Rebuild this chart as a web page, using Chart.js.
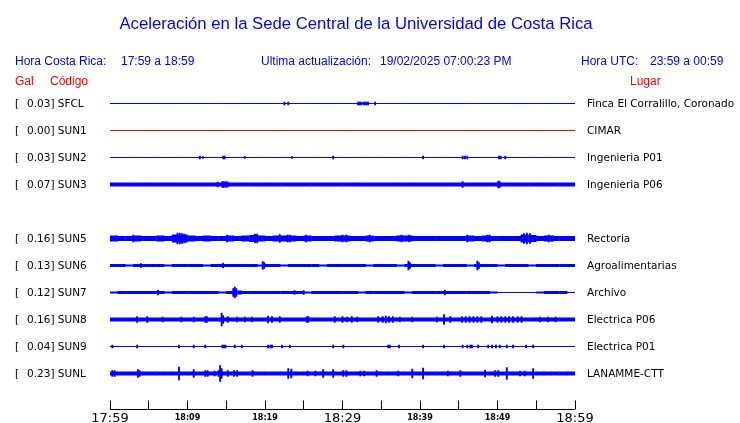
<!DOCTYPE html>
<html>
<head>
<meta charset="utf-8">
<script src="https://cdn.jsdelivr.net/npm/chart.js@4.4.1/dist/chart.umd.min.js"></script>
<style>
body { margin: 0; background: #fff; }
#wrap { position: relative; width: 740px; height: 423px; overflow: hidden; }
canvas { position: absolute; left: 0; top: 0; }
.t { position: absolute; white-space: pre; font-family: "Liberation Sans", Arial, sans-serif; font-size: 12px; line-height: 14px; color: #0000ff; }
.red { color: #ff0000; }
.lbl { position: absolute; white-space: pre; font-family: "DejaVu Sans", sans-serif; font-size: 10.5px; line-height: 13px; color: #000; }
</style>
</head>
<body>
<div id="wrap">
  <canvas id="c" width="740" height="423"></canvas>
  <div class="t" style="left:0;width:712px;text-align:center;top:14px;font-size:16.7px;line-height:20px;">Aceleración en la Sede Central de la Universidad de Costa Rica</div>
  <div class="t" style="left:15px;top:54px;">Hora Costa Rica:</div>
  <div class="t" style="left:121px;top:54px;">17:59 a 18:59</div>
  <div class="t" style="left:261px;top:54px;">Ultima actualización:</div>
  <div class="t" style="left:380px;top:54px;">19/02/2025 07:00:23 PM</div>
  <div class="t" style="left:581px;top:54px;">Hora UTC:</div>
  <div class="t" style="left:650px;top:54px;">23:59 a 00:59</div>
  <div class="t red" style="left:15px;top:74px;">Gal</div>
  <div class="t red" style="left:50px;top:74px;">Código</div>
  <div class="t red" style="left:630px;top:74px;">Lugar</div>
</div>
<script>
// station slots, top to bottom (null = empty slot, no SUN4 trace)
const codes = ['SFCL', 'SUN1', 'SUN2', 'SUN3', null, 'SUN5', 'SUN6', 'SUN7', 'SUN8', 'SUN9', 'SUNL'];
const gal = [0.03, 0.00, 0.03, 0.07, null, 0.16, 0.13, 0.12, 0.16, 0.04, 0.23];
const places = ['Finca El Corralillo, Coronado', 'CIMAR', 'Ingenieria P01', 'Ingenieria P06', null,
    'Rectoria', 'Agroalimentarias', 'Archivo', 'Electrica P06', 'Electrica P01', 'LANAMME-CTT'];

const tickLabels = ['17:59', '18:09', '18:19', '18:29', '18:39', '18:49', '18:59'];

// half amplitude of each trace, one value per minute (17:59 .. 18:58)
const bandSFCL = [
    0.5,0.5,0.5,0.5,0.5,0.5,0.5,0.5,0.5,0.5, 0.5,0.5,0.5,0.5,0.5,0.5,0.5,0.5,0.5,0.5,
    0.5,0.5,0.5,0.5,0.5,0.5,0.5,0.5,0.5,0.5, 0.5,0.5,0.5,0.5,0.5,0.5,0.5,0.5,0.5,0.5,
    0.5,0.5,0.5,0.5,0.5,0.5,0.5,0.5,0.5,0.5, 0.5,0.5,0.5,0.5,0.5,0.5,0.5,0.5,0.5,0.5];
const bandSUN1 = [
    0.5,0.5,0.5,0.5,0.5,0.5,0.5,0.5,0.5,0.5, 0.5,0.5,0.5,0.5,0.5,0.5,0.5,0.5,0.5,0.5,
    0.5,0.5,0.5,0.5,0.5,0.5,0.5,0.5,0.5,0.5, 0.5,0.5,0.5,0.5,0.5,0.5,0.5,0.5,0.5,0.5,
    0.5,0.5,0.5,0.5,0.5,0.5,0.5,0.5,0.5,0.5, 0.5,0.5,0.5,0.5,0.5,0.5,0.5,0.5,0.5,0.5];
const bandSUN2 = [
    0.5,0.5,0.5,0.5,0.5,0.5,0.5,0.5,0.5,0.5, 0.5,0.5,0.5,0.5,0.5,0.5,0.5,0.5,0.5,0.5,
    0.5,0.5,0.5,0.5,0.5,0.5,0.5,0.5,0.5,0.5, 0.5,0.5,0.5,0.5,0.5,0.5,0.5,0.5,0.5,0.5,
    0.5,0.5,0.5,0.5,0.5,0.5,0.5,0.5,0.5,0.5, 0.5,0.5,0.5,0.5,0.5,0.5,0.5,0.5,0.5,0.5];
const bandSUN3 = [
    2,2,2,2,2,2,2,2,2,2, 2,2,2,2,2,2,2,2,2,2,
    2,2,2,2,2,2,2,2,2,2, 2,2,2,2,2,2,2,2,2,2,
    2,2,2,2,2,2,2,2,2,2, 2,2,2,2,2,2,2,2,2,2];
const bandSUN5 = [
    3,2.5,2.5,3,2.5,2.5,3,2.5,4,4, 3,2.5,3,2.5,2.5,3,2.5,3,3.5,3,
    2.5,3,3,3,2.5,3,2.5,2.5,2.5,3, 3,2.5,2.5,3,2.5,2.5,2.5,3,3,2.5,
    2.5,2.5,2.5,2.5,2.5,2.5,3,2.5,3,2.5, 2.5,2.5,2.5,4,3.5,2.5,3,2.5,2.5,2.5];
const bandSUN6 = [
    1.5,1.5,1,1.5,1.5,1.5,1.5,1,1.5,1.5, 1.5,1.5,1,1.5,1.5,1.5,1.5,1.5,1.5,1,
    1.5,1.5,1,1.5,1.5,1.5,1.5,1,1.5,1.5, 1.5,1.5,1.5,1,1.5,1.5,1.5,1,1.5,1.5,
    1.5,1.5,1,1.5,1.5,1.5,1,1.5,1.5,1.5, 1,1.5,1.5,1.5,1,1.5,1.5,1.5,1.5,1.5];
const bandSUN7 = [
    1,1.5,1.5,1.5,1.5,1.5,1.5,1,1.5,1.5, 1.5,1.5,1.5,1.5,1,1.5,2,1.5,1.5,1.5,
    1.5,1.5,1.5,1.5,1.5,1,1.5,1.5,1.5,1.5, 1.5,1.5,1,1.5,1.5,1.5,1.5,1.5,1,1.5,
    1.5,1.5,1.5,1.5,1.5,1.5,1.5,1.5,1.5,1, 0.5,0.5,0.5,0.5,0.5,1,1.5,1.5,1.5,0.5];
const bandSUN8 = [
    2,2,2,2,2,2,2,2,2,2, 2,2,2,2,2,2,2,2,2,2,
    2,2,2,2,2,2,2,2,2,2, 2,2,2,2,2,2,2,2,2,2,
    2,2,2,2,2,2,2,2,2,2, 2,2,2,2,2,2,2,2,2,2];
const bandSUN9 = [
    0.5,0.5,0.5,0.5,0.5,0.5,0.5,0.5,0.5,0.5, 0.5,0.5,0.5,0.5,0.5,0.5,0.5,0.5,0.5,0.5,
    0.5,0.5,0.5,0.5,0.5,0.5,0.5,0.5,0.5,0.5, 0.5,0.5,0.5,0.5,0.5,0.5,0.5,0.5,0.5,0.5,
    0.5,0.5,0.5,0.5,0.5,0.5,0.5,0.5,0.5,0.5, 0.5,0.5,0.5,0.5,0.5,0.5,0.5,0.5,0.5,0.5];
const bandSUNL = [
    2,2,2,2,2,2,2,2,2,2, 2,2,2,2,2,2,2,2,2,2,
    2,2,2,2,2,2,2,2,2,2, 2,2,2,2,2,2,2,2,2,2,
    2,2,2,2,2,2,2,2,2,2, 2,2,2,2,2,2,2,2,2,2];

// short bursts: [minutes after 17:59, half amplitude]
const spikesSFCL = [[22.5,1.5],[23.0,1.5],[32.0,1.5],[32.2,1.5],[32.4,1.5],[32.7,1.5],[32.9,1.5],[33.1,1.5],[33.3,1.5],[34.2,1.5]];
const spikesSUN1 = [];
const spikesSUN2 = [[11.6,1.5],[12.0,1],[14.6,1.5],[14.8,1.5],[17.4,1],[23.5,1],[28.8,1.5],[40.4,1.5],
    [45.5,1.5],[45.8,1.5],[46.1,1.5],[50.2,1.5],[50.4,1.5],[51.0,1.5]];
const spikesSUN3 = [[13.9,2.5],[14.5,3],[14.7,3],[15.0,3],[15.2,2.5],[45.5,3],[50.1,3.5],[50.3,3]];
const spikesSUN5 = [[3.0,3.5],[8.7,5.5],[9.0,5.5],[9.3,5],[9.6,4.5],[15.1,3.5],[18.7,4.5],[19.0,4.5],[21.9,4],
    [22.9,3.5],[23.2,3.5],[25.3,3.5],[30.0,3.5],[30.5,3.5],[33.5,3.5],[37.6,3.5],[38.6,3.5],[46.1,3.5],
    [48.7,3.5],[49.0,3.5],[53.4,5],[53.8,5.5],[54.2,5],[56.6,3.5],[57.1,3]];
const spikesSUN6 = [[4.0,2],[14.6,2.5],[19.7,4],[19.9,3],[38.5,4.5],[38.7,3],[47.4,4.5],[47.6,3]];
const spikesSUN7 = [[6.2,2.5],[15.9,4],[16.1,5.5],[16.3,4],[23.8,2],[25.0,2],[43.2,2.5]];
const spikesSUN8 = [[3.5,3],[4.8,3],[6.8,2.5],[9.2,2.5],[10.8,2.5],[12.3,3],[12.5,3],[14.4,6.5],[14.6,4],
    [15.2,3],[16.4,2.5],[17.4,2.5],[18.3,2.5],[20.4,3.5],[20.9,3],[21.9,3],[25.4,3],[25.6,3],[29.0,3],
    [30.0,3],[30.6,2.5],[31.2,3],[31.9,2.5],[34.6,3],[35.2,3],[35.6,3.5],[36.0,3],[36.5,3],[37.4,2.5],
    [39.0,2.5],[42.2,2.5],[43.1,5],[43.9,3],[45.4,3],[45.9,3],[46.4,3],[46.9,3],[47.4,3],[47.9,3],
    [49.3,3.5],[50.0,3],[50.5,3],[51.0,3],[51.5,3],[52.0,3],[52.6,3],[53.1,3],[55.5,2.5],[56.5,2.5],[57.5,2.5]];
const spikesSUN9 = [[0.3,1.5],[3.5,1.5],[8.9,1.5],[10.8,1.5],[12.3,1.5],[14.5,1.5],[14.7,1.5],[14.9,1.5],
    [16.1,1.5],[17.0,1.5],[20.4,1.5],[20.7,1.5],[20.9,1.5],[22.2,1.5],[23.2,1.5],[28.8,1.5],[30.1,1.5],
    [35.9,1.5],[36.1,1.5],[37.3,1.5],[40.4,1.5],[43.1,1.5],[45.5,1.5],[46.1,1.5],[46.5,1.5],[46.7,1.5],
    [47.5,1.5],[48.8,1.5],[49.3,1.5],[49.8,1.5],[50.3,1.5],[51.2,1.5],[52.0,1.5],[53.7,1.5],[54.6,1.5]];
const spikesSUNL = [[0.3,3],[0.6,3],[3.6,4],[3.8,3],[8.9,6.5],[10.8,4],[12.3,3],[12.6,3],[13.5,2.5],[14.0,3],
    [14.2,8],[14.4,5],[15.2,3],[16.0,3],[16.4,3],[18.4,3],[23.0,5],[23.4,4.5],[25.5,2.5],[26.5,2.5],
    [27.5,4],[28.8,4],[30.1,3],[30.5,3],[32.3,2.5],[32.8,2.5],[34.4,3],[37.2,2.5],[39.0,4.5],[40.4,5.5],
    [43.6,2.5],[45.2,3],[48.4,3.5],[49.7,3],[50.1,3],[51.2,6],[52.9,2.5],[53.5,2.5],[54.6,5]];

const bands = { SFCL: bandSFCL, SUN1: bandSUN1, SUN2: bandSUN2, SUN3: bandSUN3, SUN5: bandSUN5,
    SUN6: bandSUN6, SUN7: bandSUN7, SUN8: bandSUN8, SUN9: bandSUN9, SUNL: bandSUNL };
const spikes = { SFCL: spikesSFCL, SUN1: spikesSUN1, SUN2: spikesSUN2, SUN3: spikesSUN3, SUN5: spikesSUN5,
    SUN6: spikesSUN6, SUN7: spikesSUN7, SUN8: spikesSUN8, SUN9: spikesSUN9, SUNL: spikesSUNL };

const ROW = 27; // y scale is 1 unit per pixel, one row per station slot
const BLUE = '#0000ff';
const RED = '#ff0000';

// labels left and right of each trace
const wrap = document.getElementById('wrap');
codes.forEach((code, r) => {
    if (!code) return;
    const top = 97 + r * ROW;
    const left = document.createElement('div');
    left.className = 'lbl';
    left.style.left = '15px';
    left.style.top = top + 'px';
    left.textContent = '[';
    wrap.appendChild(left);
    const mid = document.createElement('div');
    mid.className = 'lbl';
    mid.style.left = '27px';
    mid.style.top = top + 'px';
    mid.textContent = gal[r].toFixed(2) + '] ' + code;
    wrap.appendChild(mid);
    const right = document.createElement('div');
    right.className = 'lbl';
    right.style.left = '587px';
    right.style.top = top + 'px';
    right.textContent = places[r];
    wrap.appendChild(right);
});

const datasets = [];
codes.forEach((code, r) => {
    if (!code) return;
    const off = -r * ROW;
    const color = code === 'SUN1' ? RED : BLUE;
    datasets.push({
        xAxisID: 'x',
        data: bands[code].map((a, m) => ({ x: m + 0.5, y: [off - a, off + a] })),
        backgroundColor: color,
        borderWidth: 0,
        barPercentage: 1.05,
        categoryPercentage: 1,
        grouped: false
    });
    datasets.push({
        xAxisID: 'xs',
        data: spikes[code].map(([t, a]) => ({ x: t, y: [off - a, off + a] })),
        backgroundColor: color,
        borderWidth: 0,
        barThickness: 1.2,
        grouped: false
    });
});

const timeAxis = {
    id: 'timeAxis',
    afterDraw(chart) {
        const { ctx, chartArea: a } = chart;
        const x = chart.scales.x;
        const yA = Math.floor(a.bottom) + 0.5;
        ctx.save();
        ctx.strokeStyle = '#000';
        ctx.lineWidth = 1;
        ctx.beginPath();
        ctx.moveTo(a.left, yA);
        ctx.lineTo(a.right, yA);
        for (let m = 0; m <= 60; m += 5) {
            const px = Math.floor(x.getPixelForValue(m)) + 0.5;
            ctx.moveTo(px, yA);
            ctx.lineTo(px, yA - 9);
        }
        ctx.stroke();
        ctx.fillStyle = '#000';
        ctx.textAlign = 'center';
        ctx.textBaseline = 'alphabetic';
        tickLabels.forEach((lab, i) => {
            const m = i * 10;
            const big = m % 30 === 0;
            ctx.font = big ? '13px "DejaVu Sans"' : 'bold 8px "DejaVu Sans"';
            ctx.fillText(lab, x.getPixelForValue(m), big ? yA + 12.5 : yA + 10);
        });
        ctx.restore();
    }
};

new Chart(document.getElementById('c'), {
    type: 'bar',
    data: { datasets },
    options: {
        responsive: false,
        animation: false,
        devicePixelRatio: 1,
        layout: { padding: { left: 110, right: 165, top: 90, bottom: 13.5 } },
        plugins: { legend: { display: false }, tooltip: { enabled: false } },
        scales: {
            x: { type: 'linear', min: 0, max: 60, offset: false, display: false },
            xs: { type: 'linear', min: 0, max: 60, offset: false, display: false },
            y: { min: -306, max: 13.5, display: false }
        }
    },
    plugins: [timeAxis]
});
</script>
</body>
</html>
